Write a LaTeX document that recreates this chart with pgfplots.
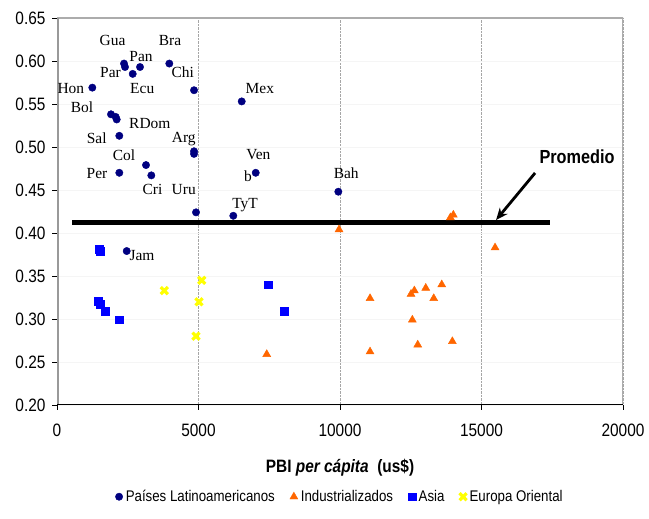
\documentclass[border=0pt]{standalone}
\usepackage{fontspec}
\setmainfont{Liberation Serif}
\setsansfont[FakeStretch=0.86]{Liberation Sans}
\usepackage{pgfplots}
\pgfplotsset{compat=1.18}
\usetikzlibrary{arrows.meta}
\definecolor{lat}{HTML}{000080}
\definecolor{ind}{HTML}{FF6600}
\definecolor{asi}{HTML}{0000FF}
\definecolor{eur}{HTML}{FFFF00}
\newcommand{\lab}{\fontsize{15.5}{17}\selectfont\rmfamily}
\begin{document}
\begin{tikzpicture}[x=1bp,y=1bp]
\path[use as bounding box] (0,0) rectangle (649,519);
\begin{axis}[
  at={(57bp,114bp)}, anchor=south west,
  scale only axis, width=566bp, height=387bp,
  xmin=0, xmax=20000, ymin=0.2, ymax=0.65,
  xtick={0,5000,10000,15000,20000},
  ytick={0.20,0.25,0.30,0.35,0.40,0.45,0.50,0.55,0.60,0.65},
  scaled x ticks=false, scaled y ticks=false,
  xtick pos=bottom, ytick pos=left, tick align=outside,
  major tick length=5bp,
  tick style={black, line width=0.8bp},
  /pgf/number format/assume math mode=true,
  font=\sffamily\fontsize{18}{20}\selectfont,
  xticklabel style={yshift=-10bp, /pgf/number format/1000 sep={}, /pgf/number format/fixed},
  yticklabel style={xshift=-3bp, /pgf/number format/fixed, /pgf/number format/fixed zerofill, /pgf/number format/precision=2},
  xmajorgrids, ymajorgrids,
  major x grid style={gray!70, densely dotted, line width=0.6bp},
  major y grid style={gray!8, line width=0.5bp},
  axis line style={draw=none},
  xlabel={\textbf{PBI \textit{per cápita}\ \ (us\$)}},
  xlabel style={at={(axis description cs:0.5,0)}, anchor=center, yshift=-63bp, font=\sffamily\fontsize{18}{20}\selectfont},
  legend columns=4,
  legend style={at={(axis description cs:0.5,-0.237)}, anchor=center, draw=none, fill=none,
    font=\sffamily\fontsize{15.5}{17}\selectfont,
    /tikz/every even column/.append style={column sep=13bp},
    /tikz/every odd column/.append style={column sep=1bp},
    legend cell align=left, inner sep=0pt},
]
% frame
\draw[gray!65, line width=1.8bp] (rel axis cs:0,1) -- (rel axis cs:1,1) -- (rel axis cs:1,0);
\draw[gray!80, line width=3bp] (rel axis cs:0,0) -- (rel axis cs:0,1);
\draw[black, line width=1.5bp] (rel axis cs:0,0) -- (rel axis cs:1,0);

\addplot[only marks, mark=*, mark size=3.7bp, color=lat, mark options={fill=lat}] coordinates {
(2368,0.597) (2403,0.593) (2933,0.593) (2675,0.585) (3969,0.597)
(1248,0.569) (4842,0.566) (6527,0.553)
(1908,0.538) (2074,0.535) (2110,0.532)
(2202,0.513) (4842,0.495) (4842,0.492) (3145,0.479) (2202,0.470)
(3333,0.467) (7022,0.470) (4912,0.424) (6230,0.420) (9941,0.448) (2463,0.379)
};
\addlegendentry{Países Latinoamericanos}
\addplot[only marks, mark=triangle*, mark size=4.6bp, color=ind, mark options={fill=ind}] coordinates {
(14005,0.421) (13900,0.418) (9966,0.404) (15479,0.383) (13595,0.340) (13030,0.336)
(12627,0.333) (12510,0.329) (11061,0.324) (13312,0.324) (12556,0.299)
(12747,0.270) (13970,0.274) (11061,0.262) (7411,0.259)
};
\addlegendentry{Industrializados}
\addplot[only marks, mark=square*, mark size=3.8bp, color=asi, mark options={fill=asi}] coordinates {
(1520,0.379) (1490,0.381) (1460,0.321) (1520,0.317) (1707,0.309) (2202,0.299)
(7467,0.340) (8032,0.309)
};
\addlegendentry{Asia}
\addplot[only marks, mark=x, mark size=5bp, color=eur, line width=3.2bp] coordinates {
(3792,0.333) (5114,0.345) (5018,0.320) (4912,0.280)
};
\addlegendentry{Europa Oriental}

% Promedio line
\addplot[black, line width=5.5bp, forget plot] coordinates {(530,0.412) (17423,0.412)};
\draw[-{Stealth[length=12bp,width=10bp]}, line width=2.8bp] (axis cs:16893,0.4698) -- (axis cs:15514,0.4151);
\node[font=\sffamily\bfseries\fontsize{19}{21}\selectfont] at (axis cs:18377,0.4884) {Promedio};

% labels
\node[font=\lab] at (axis cs:1961,0.6236) {Gua};
\node[font=\lab] at (axis cs:3993,0.6236) {Bra};
\node[font=\lab] at (axis cs:2969,0.605) {Pan};
\node[font=\lab] at (axis cs:1891,0.5869) {Par};
\node[font=\lab] at (axis cs:4446,0.5869) {Chi};
\node[font=\lab] at (axis cs:488,0.5683) {Hon};
\node[font=\lab] at (axis cs:3011,0.5683) {Ecu};
\node[font=\lab] at (axis cs:7167,0.5683) {Mex};
\node[font=\lab] at (axis cs:884,0.5462) {Bol};
\node[font=\lab] at (axis cs:3280,0.5276) {RDom};
\node[font=\lab] at (axis cs:1403,0.5101) {Sal};
\node[font=\lab] at (axis cs:4478,0.509) {Arg};
\node[font=\lab] at (axis cs:2368,0.4907) {Col};
\node[font=\lab] at (axis cs:7114,0.4907) {Ven};
\node[font=\lab] at (axis cs:1414,0.4694) {Per};
\node[font=\lab] at (axis cs:6750,0.4655) {b};
\node[font=\lab] at (axis cs:3375,0.4508) {Cri};
\node[font=\lab] at (axis cs:4478,0.4508) {Uru};
\node[font=\lab] at (axis cs:6644,0.4326) {TyT};
\node[font=\lab] at (axis cs:10220,0.4694) {Bah};
\node[font=\lab] at (axis cs:3004,0.3733) {Jam};
\end{axis}
\end{tikzpicture}
\end{document}
